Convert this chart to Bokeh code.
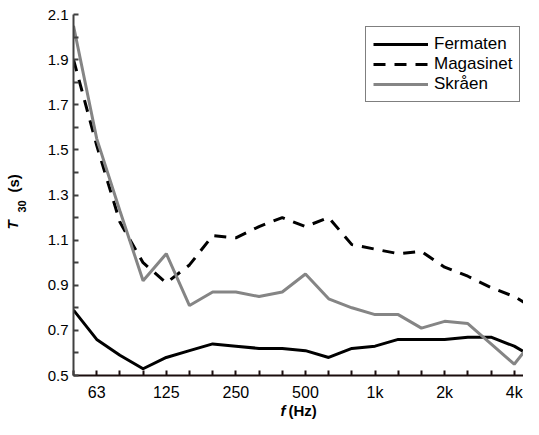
import math
from bokeh.plotting import figure
from bokeh.layouts import row, column
from bokeh.models import Range1d, FixedTicker, Legend, LegendItem, Label
from bokeh.embed import file_html
from bokeh.resources import INLINE

# third-octave bands (Hz)
bands = ["50", "63", "80", "100", "125", "160", "200", "250", "315", "400", "500",
         "630", "800", "1k", "1.25k", "1.6k", "2k", "2.5k", "3.15k", "4k", "5k"]
shown_bands = ["63", "125", "250", "500", "1k", "2k", "4k"]

# T30 (s)
fermaten = [0.79, 0.66, 0.59, 0.53, 0.58, 0.61, 0.64, 0.63, 0.62, 0.62, 0.61,
            0.58, 0.62, 0.63, 0.66, 0.66, 0.66, 0.67, 0.67, 0.63, 0.57]
magasinet = [1.90, 1.52, 1.18, 1.00, 0.91, 0.99, 1.12, 1.11, 1.16, 1.20, 1.16,
             1.20, 1.08, 1.06, 1.04, 1.05, 0.98, 0.94, 0.89, 0.85, 0.79]
skraen = [2.05, 1.55, 1.23, 0.92, 1.04, 0.81, 0.87, 0.87, 0.85, 0.87, 0.95,
          0.84, 0.80, 0.77, 0.77, 0.71, 0.74, 0.73, 0.64, 0.55, 0.68]

y_major = [0.5, 0.7, 0.9, 1.1, 1.3, 1.5, 1.7, 1.9, 2.1]
y_minor = [0.6, 0.8, 1.0, 1.2, 1.4, 1.6, 1.8, 2.0]

FONT = "Liberation Sans"
GRAY = "#858585"
INK = "#000000"
X_AXIS_INK = "#1a0d0d"
Y_AXIS_INK = "#404040"

x = list(range(len(bands)))
major_x = [i for i, b in enumerate(bands) if b in shown_bands]
minor_x = [i for i, b in enumerate(bands) if b not in shown_bands]


def blank_fig(w, h):
    f = figure(width=w, height=h, output_backend="svg", toolbar_location=None,
               x_range=Range1d(0, 1), y_range=Range1d(0, 1),
               x_axis_location=None, y_axis_location=None,
               min_border=0, min_border_left=0, min_border_right=0,
               min_border_top=0, min_border_bottom=0)
    f.grid.visible = False
    f.outline_line_color = None
    f.background_fill_color = "#ffffff"
    f.border_fill_color = "#ffffff"
    return f


def lab(fig, xs, ys, text, style, size, angle=0.0):
    fig.add_layout(Label(x=xs, y=ys, x_units="screen", y_units="screen", text=text,
                         angle=angle, text_font=FONT, text_font_style=style,
                         text_font_size=size, text_color=INK,
                         text_align="left", text_baseline="middle"))


# main plot
p = figure(width=493, height=403, output_backend="svg", toolbar_location=None,
           x_range=Range1d(0, 19.4), y_range=Range1d(0.5, 2.1),
           min_border_left=43, min_border_right=0, min_border_top=14,
           min_border_bottom=27)
p.outline_line_color = None
p.xgrid.visible = False
p.ygrid.visible = False
p.background_fill_color = "#ffffff"
p.border_fill_color = "#ffffff"

for ax, col in ((p.xaxis[0], X_AXIS_INK), (p.yaxis[0], Y_AXIS_INK)):
    ax.axis_line_color = col
    ax.axis_line_width = 2
    ax.major_tick_line_color = col
    ax.minor_tick_line_color = col
    ax.major_tick_line_width = 2
    ax.minor_tick_line_width = 2
    ax.major_tick_in = 5
    ax.major_tick_out = 0
    ax.minor_tick_in = 5
    ax.minor_tick_out = 0
    ax.major_label_text_font = FONT
    ax.major_label_text_color = INK

p.xaxis.ticker = FixedTicker(ticks=major_x, minor_ticks=minor_x)
p.xaxis.major_label_overrides = {i: bands[i] for i in major_x}
p.xaxis.major_label_text_font_size = "16px"
p.xaxis.major_label_standoff = 8
p.yaxis.ticker = FixedTicker(ticks=y_major, minor_ticks=y_minor)
p.yaxis.major_label_text_font_size = "15px"
p.yaxis.major_label_standoff = 5

r1 = p.line(x, fermaten, line_color=INK, line_width=3)
r2 = p.line(x, magasinet, line_color=INK, line_width=3, line_dash="12 9")
r3 = p.line(x, skraen, line_color=GRAY, line_width=3)

legend = Legend(items=[LegendItem(label="Fermaten", renderers=[r1]),
                       LegendItem(label="Magasinet", renderers=[r2]),
                       LegendItem(label="Skråen", renderers=[r3])],
                location=(292, 273), padding=7, spacing=0,
                glyph_width=55, glyph_height=20, label_height=20,
                label_standoff=6, label_text_font=FONT,
                label_text_font_size="17px", label_text_color=INK,
                border_line_color=INK, border_line_width=1.5,
                background_fill_color="#ffffff", background_fill_alpha=1.0,
                margin=0)
p.add_layout(legend)

# y-axis title panel: T_30 (s)
ylab = blank_fig(30, 419)
lab(ylab, 12, 190, "T", "bold italic", "15px", math.pi / 2)
lab(ylab, 21, 207, "30", "bold", "11px", math.pi / 2)
lab(ylab, 13, 227, "(s)", "bold", "15px", math.pi / 2)

# x-axis title panel: f (Hz)  (its frame is aligned with the main frame)
xlab = blank_fig(493, 16)
lab(xlab, 207, 9, "f", "bold italic", "15px")
lab(xlab, 215, 9, "(Hz)", "bold", "15px")

layout = row(ylab, column(p, xlab, spacing=0), spacing=0)

open("out.html", "w").write(file_html(layout, INLINE))
